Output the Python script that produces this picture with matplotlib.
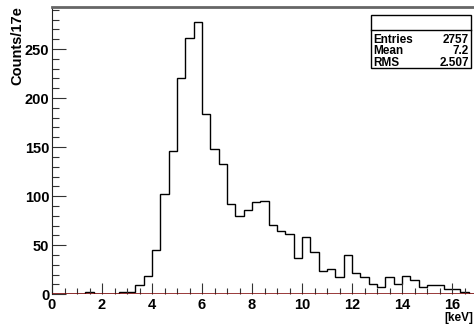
import numpy as np
import matplotlib
matplotlib.use("Agg")
import matplotlib.pyplot as plt
from matplotlib.ticker import MultipleLocator

plt.rcParams['font.family'] = ['Liberation Sans', 'DejaVu Sans']

# histogram: 51 bins of 1/3 keV from 0 to 17
edges = np.linspace(0, 17, 52)
counts = [0, 0, 0, 0, 2, 0, 0, 0, 2, 2,
          9, 19, 45, 102, 146, 220, 261, 278, 184, 148,
          133, 92, 80, 86, 94, 95, 71, 65, 61, 37,
          58, 43, 24, 26, 18, 40, 22, 18, 10, 7,
          18, 10, 19, 15, 7, 9, 9, 5, 5, 2, 0]

stat_names = ["Entries", "Mean", "RMS"]
stat_values = ["2757", "7.2", "2.507"]

W, H = 474, 324
fig = plt.figure(figsize=(W / 100, H / 100), dpi=100)
ax = fig.add_axes([52 / W, 29.7 / H, 425 / W, 287 / H])

ax.stairs(counts, edges, color='black', lw=1.0)
ax.axhline(0, color='#7a0000', lw=1.8, zorder=3)

ax.set_xlim(0, 17)
ax.set_ylim(0, 292.5)

ax.xaxis.set_major_locator(MultipleLocator(2))
ax.xaxis.set_minor_locator(MultipleLocator(0.5))
ax.yaxis.set_major_locator(MultipleLocator(50))
ax.yaxis.set_minor_locator(MultipleLocator(10))
ax.tick_params(which='both', direction='in', top=False, right=False,
               labelsize=10.5, width=0.8, color='#333333')
ax.tick_params(axis='x', which='major', length=8, pad=2.5)
ax.tick_params(axis='x', which='minor', length=4)
ax.tick_params(axis='y', which='major', length=10, pad=2)
ax.tick_params(axis='y', which='minor', length=5)
for lab in ax.get_xticklabels() + ax.get_yticklabels():
    lab.set_fontweight('bold')

ax.spines['top'].set_color('#666666')
ax.spines['top'].set_linewidth(2)
ax.spines['left'].set_color('#222222')
ax.spines['right'].set_visible(False)
ax.spines['bottom'].set_visible(False)

fig.text(17 / W, 1 - 6 / H, "Counts/17e", rotation=90, ha='center', va='top',
         fontsize=10.5, fontweight='bold')
fig.text(473 / W, 0.5 / H, "[keV]", ha='right', va='bottom',
         fontsize=8.5, fontweight='bold')

# stats box
bx0, bx1 = 371 / W, 471 / W
by0, by1 = 1 - 68 / H, 1 - 15 / H
fig.patches.append(plt.Rectangle((bx0, by0), bx1 - bx0, by1 - by0,
                                 transform=fig.transFigure, fill=True,
                                 facecolor='white', edgecolor='black', lw=1))
fig.lines.append(plt.Line2D([bx0, bx1], [1 - 29.5 / H] * 2,
                            transform=fig.transFigure, color='black', lw=1))
for i, (n, v) in enumerate(zip(stat_names, stat_values)):
    yy = 1 - (40 + 11.5 * i) / H
    fig.text(373 / W, yy, n, ha='left', va='center', fontsize=8.5,
             fontweight='bold')
    fig.text(469 / W, yy, v, ha='right', va='center', fontsize=8.5,
             fontweight='bold')

fig.savefig("out.png", dpi=100)
